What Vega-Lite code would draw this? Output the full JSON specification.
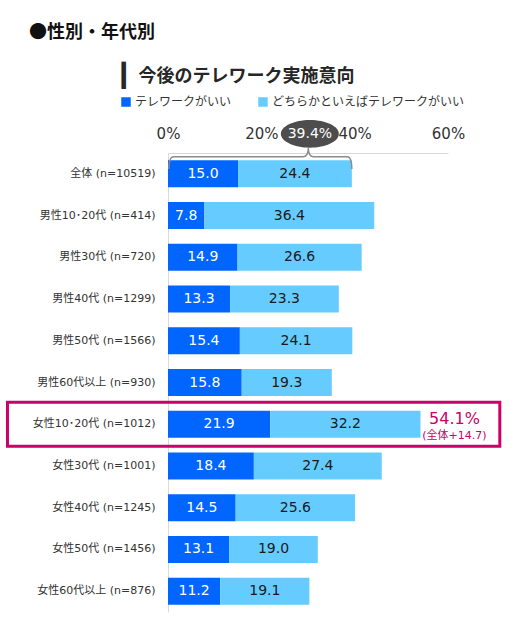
{
  "$schema": "https://vega.github.io/schema/vega-lite/v6.json",
  "width": 280,
  "height": 459,
  "autosize": {"type": "none"},
  "padding": {"left": 168, "top": 153, "right": 76, "bottom": 27},
  "background": "white",
  "config": {"view": {"stroke": null}, "font": "DejaVu Sans"},
  "title": {
    "text": "●性別・年代別",
    "anchor": "start",
    "frame": "group",
    "font": "Noto Sans CJK JP",
    "fontSize": 18,
    "fontWeight": "bold",
    "color": "#111111",
    "dx": -139,
    "dy": -18
  },
  "datasets": {
    "bars": [
      {"group": "全体 (n=10519)", "type": "テレワークがいい", "value": 15.0, "order": 1},
      {"group": "全体 (n=10519)", "type": "どちらかといえばテレワークがいい", "value": 24.4, "order": 2},
      {"group": "男性10･20代 (n=414)", "type": "テレワークがいい", "value": 7.8, "order": 1},
      {"group": "男性10･20代 (n=414)", "type": "どちらかといえばテレワークがいい", "value": 36.4, "order": 2},
      {"group": "男性30代 (n=720)", "type": "テレワークがいい", "value": 14.9, "order": 1},
      {"group": "男性30代 (n=720)", "type": "どちらかといえばテレワークがいい", "value": 26.6, "order": 2},
      {"group": "男性40代 (n=1299)", "type": "テレワークがいい", "value": 13.3, "order": 1},
      {"group": "男性40代 (n=1299)", "type": "どちらかといえばテレワークがいい", "value": 23.3, "order": 2},
      {"group": "男性50代 (n=1566)", "type": "テレワークがいい", "value": 15.4, "order": 1},
      {"group": "男性50代 (n=1566)", "type": "どちらかといえばテレワークがいい", "value": 24.1, "order": 2},
      {"group": "男性60代以上 (n=930)", "type": "テレワークがいい", "value": 15.8, "order": 1},
      {"group": "男性60代以上 (n=930)", "type": "どちらかといえばテレワークがいい", "value": 19.3, "order": 2},
      {"group": "女性10･20代 (n=1012)", "type": "テレワークがいい", "value": 21.9, "order": 1},
      {"group": "女性10･20代 (n=1012)", "type": "どちらかといえばテレワークがいい", "value": 32.2, "order": 2},
      {"group": "女性30代 (n=1001)", "type": "テレワークがいい", "value": 18.4, "order": 1},
      {"group": "女性30代 (n=1001)", "type": "どちらかといえばテレワークがいい", "value": 27.4, "order": 2},
      {"group": "女性40代 (n=1245)", "type": "テレワークがいい", "value": 14.5, "order": 1},
      {"group": "女性40代 (n=1245)", "type": "どちらかといえばテレワークがいい", "value": 25.6, "order": 2},
      {"group": "女性50代 (n=1456)", "type": "テレワークがいい", "value": 13.1, "order": 1},
      {"group": "女性50代 (n=1456)", "type": "どちらかといえばテレワークがいい", "value": 19.0, "order": 2},
      {"group": "女性60代以上 (n=876)", "type": "テレワークがいい", "value": 11.2, "order": 1},
      {"group": "女性60代以上 (n=876)", "type": "どちらかといえばテレワークがいい", "value": 19.1, "order": 2}
    ],
    "overall": [
      {"group": "全体 (n=10519)", "total": 39.4, "label": "39.4%"}
    ],
    "highlight": [
      {"group": "女性10･20代 (n=1012)", "total": 54.1, "label": "54.1%", "note": "(全体+14.7)"}
    ]
  },
  "layer": [
    {
      "data": {"name": "bars"},
      "mark": {"type": "bar", "height": 27},
      "encoding": {
        "y": {
          "field": "group",
          "type": "nominal",
          "sort": null,
          "scale": {
            "domain": ["全体 (n=10519)", "男性10･20代 (n=414)", "男性30代 (n=720)", "男性40代 (n=1299)", "男性50代 (n=1566)", "男性60代以上 (n=930)", "女性10･20代 (n=1012)", "女性30代 (n=1001)", "女性40代 (n=1245)", "女性50代 (n=1456)", "女性60代以上 (n=876)"],
            "paddingInner": 0.3,
            "paddingOuter": 0.15
          },
          "axis": {
            "title": "▎",
            "titleAngle": 0,
            "titleX": -47,
            "titleY": -78,
            "titleAlign": "left",
            "titleBaseline": "middle",
            "titleFont": "DejaVu Sans",
            "titleFontSize": 23,
            "titleFontWeight": "normal",
            "titleColor": "#262626",
            "labelFont": "DejaVu Sans, Noto Sans CJK JP",
            "labelFontSize": 11,
            "labelColor": "#333333",
            "labelPadding": 13,
            "ticks": false,
            "domainColor": "#d9d9d9",
            "domainWidth": 1
          }
        },
        "x": {
          "field": "value",
          "type": "quantitative",
          "stack": "zero",
          "scale": {"domain": [0, 60], "nice": false},
          "axis": {
            "orient": "top",
            "values": [0, 20, 40, 60],
            "labelExpr": "datum.value + '%'",
            "labelFlush": false,
            "labelFont": "DejaVu Sans",
            "labelFontSize": 15,
            "labelColor": "#333333",
            "labelPadding": 12,
            "ticks": false,
            "grid": false,
            "domainColor": "#d9d9d9",
            "title": "今後のテレワーク実施意向",
            "titleX": -30,
            "titleY": -77,
            "titleAlign": "left",
            "titleBaseline": "middle",
            "titleFont": "Noto Sans CJK JP",
            "titleFontSize": 18,
            "titleFontWeight": "bold",
            "titleColor": "#262626"
          }
        },
        "color": {
          "field": "type",
          "type": "nominal",
          "scale": {"domain": ["テレワークがいい", "どちらかといえばテレワークがいい"], "range": ["#0066ff", "#66ccff"]},
          "legend": {
            "orient": "none",
            "legendX": -48,
            "legendY": -57,
            "direction": "horizontal",
            "title": null,
            "symbolType": "square",
            "symbolSize": 90,
            "symbolStrokeWidth": 0,
            "labelFont": "Noto Sans CJK JP",
            "labelFontSize": 12,
            "labelColor": "#333333",
            "labelOffset": 3,
            "labelLimit": 400,
            "columnPadding": 25
          }
        },
        "order": {"field": "order", "type": "quantitative"}
      }
    },
    {
      "data": {"name": "bars"},
      "transform": [
        {"stack": "value", "groupby": ["group"], "sort": [{"field": "order", "order": "ascending"}], "as": ["x0", "x1"]},
        {"fold": ["x0", "x1"], "as": ["edge", "pos"]},
        {"aggregate": [{"op": "mean", "field": "pos", "as": "mid"}], "groupby": ["group", "type", "value", "order"]}
      ],
      "mark": {"type": "text", "font": "DejaVu Sans", "fontSize": 14, "baseline": "middle"},
      "encoding": {
        "x": {"field": "mid", "type": "quantitative"},
        "y": {"field": "group", "type": "nominal", "sort": null},
        "text": {"field": "value", "type": "quantitative", "format": ".1f"},
        "color": {"condition": {"test": "datum.order == 1", "value": "#ffffff"}, "value": "#1a1a1a"}
      }
    },
    {
      "data": {"name": "highlight"},
      "mark": {"type": "rect", "height": 44, "filled": false, "stroke": "#cc0066", "strokeWidth": 3, "opacity": 1},
      "encoding": {
        "x": {"datum": -34.4, "type": "quantitative"},
        "x2": {"datum": 71.1},
        "y": {"field": "group", "type": "nominal", "sort": null}
      }
    },
    {
      "data": {"name": "highlight"},
      "mark": {"type": "text", "font": "DejaVu Sans", "fontSize": 16, "color": "#cc0066", "dx": 34, "dy": -5, "baseline": "middle", "align": "center"},
      "encoding": {
        "x": {"field": "total", "type": "quantitative"},
        "y": {"field": "group", "type": "nominal", "sort": null},
        "text": {"field": "label"}
      }
    },
    {
      "data": {"name": "highlight"},
      "mark": {"type": "text", "font": "DejaVu Sans, Noto Sans CJK JP", "fontSize": 11, "color": "#cc0066", "dx": 34, "dy": 11.5, "baseline": "middle", "align": "center"},
      "encoding": {
        "x": {"field": "total", "type": "quantitative"},
        "y": {"field": "group", "type": "nominal", "sort": null},
        "text": {"field": "note"}
      }
    },
    {
      "data": {"name": "overall"},
      "mark": {"type": "point", "shape": "M-2,-0.053 Q-2,-0.187 -1.95,-0.187 L-0.535,-0.187 Q-0.476,-0.187 -0.476,-0.2825 Q-0.476,-0.187 -0.417,-0.187 L-0.05,-0.187 Q0,-0.187 0,-0.053", "size": 33489, "filled": false, "stroke": "#8c8c8c", "strokeWidth": 1.5, "opacity": 1},
      "encoding": {
        "x": {"field": "total", "type": "quantitative"},
        "y": {"field": "group", "type": "nominal", "sort": null}
      }
    },
    {
      "data": {"name": "overall"},
      "mark": {"type": "point", "shape": "M-1,0 A1,0.48 0 1,1 1,0 A1,0.48 0 1,1 -1,0 Z", "size": 3364, "filled": true, "color": "#4d4d4d", "opacity": 1, "xOffset": -42, "yOffset": -40},
      "encoding": {
        "x": {"field": "total", "type": "quantitative"},
        "y": {"field": "group", "type": "nominal", "sort": null}
      }
    },
    {
      "data": {"name": "overall"},
      "mark": {"type": "text", "font": "DejaVu Sans", "fontSize": 14, "color": "#ffffff", "dx": -42, "dy": -40, "baseline": "middle", "align": "center"},
      "encoding": {
        "x": {"field": "total", "type": "quantitative"},
        "y": {"field": "group", "type": "nominal", "sort": null},
        "text": {"field": "label"}
      }
    }
  ]
}
